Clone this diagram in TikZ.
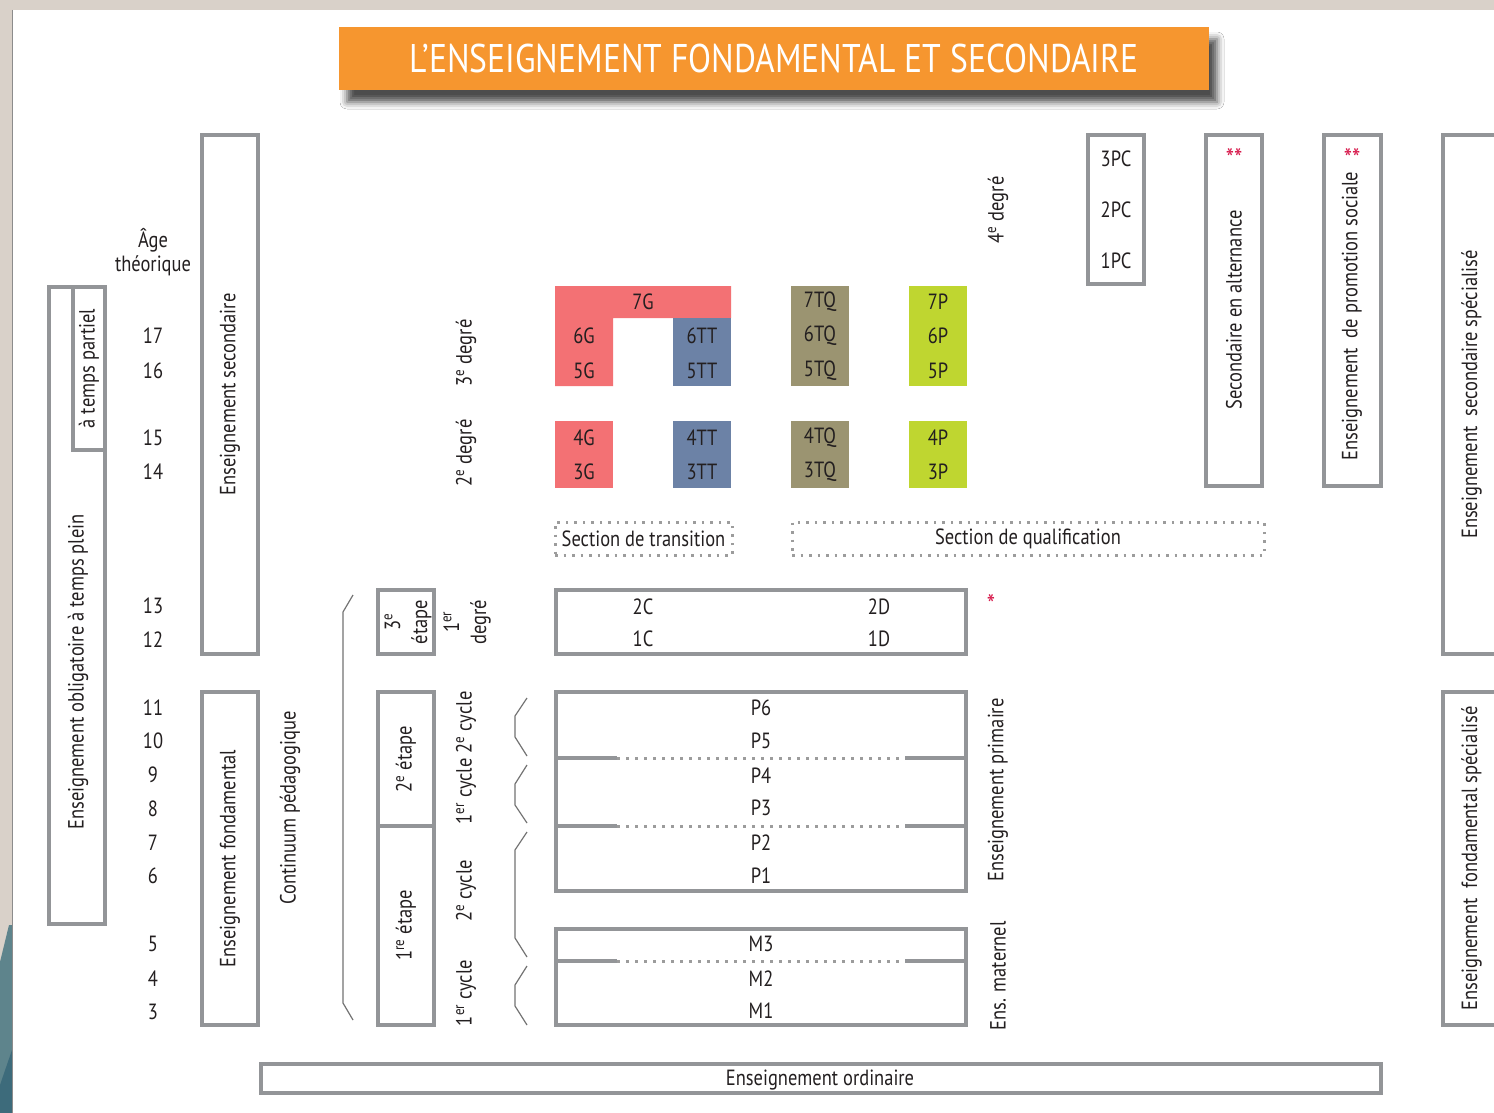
\documentclass[tikz,border=0pt]{standalone}
\usepackage{fontspec}
\setmainfont{PT Sans}[FakeStretch=0.84]
\usetikzlibrary{shadows.blur}
\definecolor{framec}{HTML}{D9D1C9}
\definecolor{tealc}{HTML}{5E848C}
\definecolor{tealdk}{HTML}{3D6B7B}
\definecolor{orangec}{HTML}{F6962F}
\definecolor{boxgray}{HTML}{939598}
\definecolor{dotgray}{HTML}{9C9C9C}
\definecolor{ink}{HTML}{231F20}
\definecolor{redc}{HTML}{F37174}
\definecolor{bluec}{HTML}{6C82A6}
\definecolor{olivec}{HTML}{9B9471}
\definecolor{greenc}{HTML}{BFD630}
\definecolor{starc}{HTML}{D7194B}
\newcommand\fs{\fontsize{22}{27}\selectfont}
\newcommand\titlefs{\fontsize{40}{44}\selectfont}
\newcommand\supx[1]{\textsuperscript{#1}}
\begin{document}
\begin{tikzpicture}[x=1pt,y=-1pt,
  every node/.style={text=ink, font=\fs, inner sep=0pt, outer sep=0pt},
  box/.style={draw=boxgray, line width=4pt},
  dotbox/.style={draw=dotgray, line width=3pt, dash pattern=on 2.5pt off 6pt},
  dotline/.style={draw=dotgray, line width=3pt, dash pattern=on 2.5pt off 6.5pt},
  solidline/.style={draw=boxgray, line width=4pt},
  brace/.style={draw=black!55, line width=1.2pt, line join=miter},
  vlabel/.style={rotate=90, align=center},
  star/.style={text=starc, font=\fontsize{28}{28}\selectfont}
]
\useasboundingbox (0,0) rectangle (1494,1113);
% frame
\fill[framec] (0,0) rectangle (1494,1113);
\fill[white] (13,10) rectangle (1494,1113);
\fill[tealc] (0,962) -- (9,925) -- (12,925) -- (12,1113) -- (0,1113) -- cycle;
\fill[tealdk] (0,1113) -- (0,1085) -- (12,1050) -- (12,1113) -- cycle;
\draw[black!45, line width=1pt] (12.5,10) -- (12.5,1113);

% title
\node[fill=orangec, minimum width=870pt, minimum height=63pt,
  blur shadow={shadow xshift=8pt, shadow yshift=-12pt, shadow blur radius=7pt, shadow opacity=70},
  text=white, font=\titlefs] (title) at (774,58.5) {L’ENSEIGNEMENT FONDAMENTAL ET SECONDAIRE};

% age column
\node[align=center] (age) at (153,252) {Âge\\[-3pt]théorique};
\foreach \a/\y in {17/336,16/371,15/438,14/472,13/606,12/640,11/708,10/741,9/775,8/809,7/843,6/876,5/944,4/979,3/1012}
  \node (age\a) at (153,\y) {\a};

% left boxes
\node[box, minimum width=56pt, minimum height=637pt] (oblig) at (77,605.5) {};
\node[vlabel] (obligt) at (78,672) {Enseignement obligatoire à temps plein};
\node[box, rotate=90, minimum width=163pt, minimum height=32pt] (partiel) at (89,368.5) {à temps partiel};
\node[box, rotate=90, minimum width=519pt, minimum height=56pt] (secondaire) at (230,394.5) {Enseignement secondaire};
\node[box, rotate=90, minimum width=333pt, minimum height=56pt] (fondamental) at (230,858.5) {Enseignement fondamental};
\node[vlabel] (continuum) at (290,808) {Continuum pédagogique};

% big brace
\draw[brace] (353,595) -- (343,612) -- (343,1003) -- (353,1020);

% etapes
\node[box, minimum width=56pt, minimum height=64pt] (etape3) at (406,622) {};
\node[vlabel] (etape3t) at (408,622) {3\supx{e}\\étape};
\node[box, rotate=90, minimum width=134pt, minimum height=56pt] (etape2) at (406,759) {2\supx{e} étape};
\node[box, rotate=90, minimum width=199pt, minimum height=56pt] (etape1) at (406,925.5) {1\supx{re} étape};

% degre / cycle labels
\node[vlabel] (deg3) at (466,353) {3\supx{e} degré};
\node[vlabel] (deg2) at (466,453) {2\supx{e} degré};
\node[vlabel] (deg1) at (467,622) {1\supx{er}\\degré};
\node[vlabel] (deg4) at (998,210) {4\supx{e} degré};
\node[vlabel] (cyc12) at (466,758) {1\supx{er} cycle 2\supx{e} cycle};
\node[vlabel] (cyc2) at (466,891) {2\supx{e} cycle};
\node[vlabel] (cyc1) at (466,993) {1\supx{er} cycle};

% small braces
\draw[brace] (527,698) -- (515,716) -- (515,737) -- (527,756);
\draw[brace] (527,765) -- (515,784) -- (515,805) -- (527,823);
\draw[brace] (527,832) -- (515,850) -- (515,938) -- (527,957);
\draw[brace] (527,966) -- (515,985) -- (515,1006) -- (527,1025);

% coloured blocks
\fill[redc] (555,286) -- (731,286) -- (731,318) -- (613,318) -- (613,386) -- (555,386) -- cycle;
\fill[bluec] (673,318) rectangle (731,386);
\fill[olivec] (791,286) rectangle (849,386);
\fill[greenc] (909,286) rectangle (967,386);
\fill[redc] (555,421) rectangle (613,488);
\fill[bluec] (673,421) rectangle (731,488);
\fill[olivec] (791,421) rectangle (849,488);
\fill[greenc] (909,421) rectangle (967,488);
\node (g7) at (643,302) {7G};
\node (g6) at (584,336) {6G};
\node (g5) at (584,371) {5G};
\node (g4) at (584,438) {4G};
\node (g3) at (584,472) {3G};
\node (tt6) at (702,336) {6TT};
\node (tt5) at (702,371) {5TT};
\node (tt4) at (702,438) {4TT};
\node (tt3) at (702,472) {3TT};
\node (tq7) at (820,302) {7TQ};
\node (tq6) at (820,336) {6TQ};
\node (tq5) at (820,371) {5TQ};
\node (tq4) at (820,438) {4TQ};
\node (tq3) at (820,472) {3TQ};
\node (p7) at (938,302) {7P};
\node (p6) at (938,336) {6P};
\node (p5) at (938,371) {5P};
\node (p4) at (938,438) {4P};
\node (p3) at (938,472) {3P};

% sections
\node[dotbox, minimum width=177pt, minimum height=33pt] (transition) at (643.5,538.5) {Section de transition};
\node[dotbox, minimum width=472pt, minimum height=33pt] (qualif) at (1028,538.5) {Section de qualification};

% 1er degre box
\node[box, minimum width=410pt, minimum height=64pt] (cdbox) at (761,622) {};
\node (c2) at (643,607) {2C};
\node (c1) at (643,639) {1C};
\node (d2) at (879,607) {2D};
\node (d1) at (879,639) {1D};
\node[star] (star1) at (991,604) {*};

% primaire
\node[box, minimum width=410pt, minimum height=199pt] (primaire) at (761,791.5) {};
\foreach \n/\y in {P6/708,P5/741,P4/776,P3/808,P2/843,P1/876}
  \node (\n) at (761,\y) {\n};
\coordinate (s1a) at (556,758); \coordinate (s1b) at (617,758);
\coordinate (s1c) at (905,758); \coordinate (s1d) at (966,758);
\coordinate (s2a) at (556,826); \coordinate (s2b) at (617,826);
\coordinate (s2c) at (905,826); \coordinate (s2d) at (966,826);
\draw[solidline] (s1a) -- (s1b); \draw[dotline] (s1b) -- (s1c); \draw[solidline] (s1c) -- (s1d);
\draw[solidline] (s2a) -- (s2b); \draw[dotline] (s2b) -- (s2c); \draw[solidline] (s2c) -- (s2d);
\node[vlabel] (primt) at (998,790) {Enseignement primaire};

% maternel
\node[box, minimum width=410pt, minimum height=96pt] (maternel) at (761,977) {};
\node (M3) at (761,944) {M3};
\node (M2) at (761,979) {M2};
\node (M1) at (761,1011) {M1};
\coordinate (s3a) at (556,961); \coordinate (s3b) at (617,961);
\coordinate (s3c) at (905,961); \coordinate (s3d) at (966,961);
\draw[solidline] (s3a) -- (s3b); \draw[dotline] (s3b) -- (s3c); \draw[solidline] (s3c) -- (s3d);
\node[vlabel] (matt) at (998,976) {Ens. maternel};

% ordinaire
\node[box, minimum width=1120pt, minimum height=29pt] (ordinaire) at (821,1078.5) {};
\node (ordt) at (820,1080) {Enseignement ordinaire};

% right column
\node[box, minimum width=56pt, minimum height=149pt] (pc) at (1116,209.5) {};
\node (pc3) at (1116,159) {3PC};
\node (pc2) at (1116,210) {2PC};
\node (pc1) at (1116,261) {1PC};
\node[box, minimum width=56pt, minimum height=351pt] (altern) at (1234,310.5) {};
\node[vlabel] (alternt) at (1234,310) {Secondaire en alternance};
\node[star] (star2) at (1234,158) {**};
\node[box, minimum width=57pt, minimum height=351pt] (promo) at (1352.5,310.5) {};
\node[vlabel] (promot) at (1352,316) {Enseignement\ \ de promotion sociale};
\node[star] (star3) at (1352,158) {**};
\begin{scope}
\clip (13,10) rectangle (1494,1113);
\node[box, rotate=90, minimum width=519pt, minimum height=57pt] (secspec) at (1471.5,394.5) {Enseignement\ \ secondaire spécialisé};
\node[box, rotate=90, minimum width=333pt, minimum height=57pt] (fondspec) at (1471.5,858.5) {Enseignement\ \ fondamental spécialisé};
\end{scope}
\end{tikzpicture}
\end{document}
